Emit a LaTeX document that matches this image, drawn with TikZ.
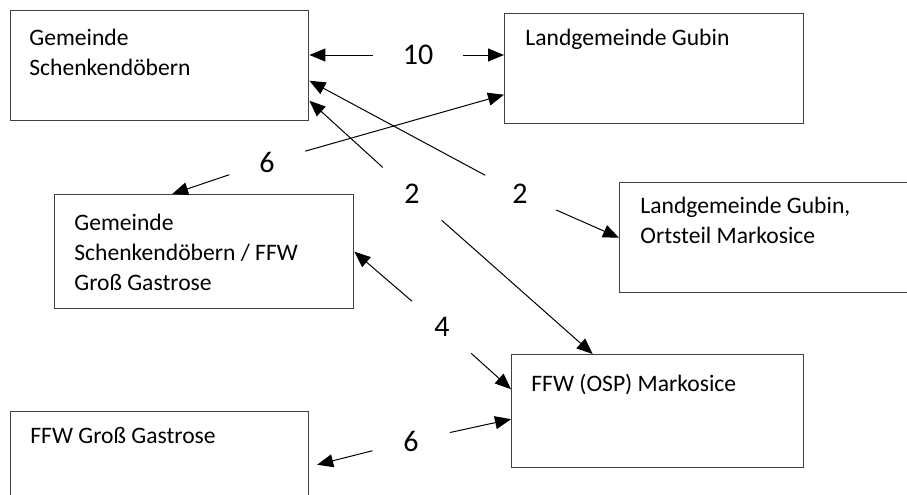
\documentclass[tikz,border=0pt]{standalone}
\usepackage{fontspec}
\setmainfont{Carlito}
\usetikzlibrary{arrows.meta,positioning}

\begin{document}
\begin{tikzpicture}[x=0.5pt,y=-0.5pt]
    \tikzstyle{box}=[rectangle,draw=black!75,line width=0.7pt,anchor=north west,minimum width=149pt,minimum height=55pt,inner sep=0pt]
    \tikzstyle{txt}=[align=left,inner sep=0pt,font=\fontsize{11.8}{15}\selectfont]
    \tikzstyle{num}=[circle,inner sep=9.5pt,font=\fontsize{15}{17}\selectfont]   % count on a link
    \tikzstyle{link}=[line width=0.5pt,-{Triangle[length=8pt,width=6.5pt]}]

    \tikzstyle{every edge}=[draw]

    \useasboundingbox (0,0) rectangle (907,494);
    \clip (0,0) rectangle (907,494);

    \node[box] (gem) at ( 10, 10) {};
    \node[box,minimum width=149.5pt] (lgg) at (504, 13) {};
    \node[box,minimum width=160pt] (lgm) at (619,182) {};
    \node[box,minimum width=149.5pt,minimum height=57pt] (ggd) at ( 54,194) {};
    \node[box,minimum width=146pt,minimum height=56.5pt] (osp) at (511,354) {};
    \node[box] (ffw) at ( 10,411) {};

    \node[txt,below right=9.5pt and 9.5pt of gem.north west] (gemtxt) {Gemeinde\\Schenkendöbern};
    \node[txt,below right=8pt and 10.5pt of lgg.north west] (lggtxt) {Landgemeinde Gubin};
    \node[txt,below right=7.5pt and 10.5pt of lgm.north west] (lgmtxt) {Landgemeinde Gubin,\\Ortsteil Markosice};
    \node[txt,below right=10pt and 10pt of ggd.north west] (ggdtxt) {Gemeinde\\Schenkendöbern / FFW\\Groß Gastrose};
    \node[txt,below right=10pt and 10pt of osp.north west] (osptxt) {FFW (OSP) Markosice};
    \node[txt,below right=8pt and 10pt of ffw.north west] (ffwtxt) {FFW Groß Gastrose};

    \node[num] (l10) at (418, 55) {10};
    \node[num] (l6a) at (267,162) {6};
    \node[num] (l2a) at (412,194) {2};
    \node[num] (l2b) at (520,194) {2};
    \node[num] (l4)  at (442,327) {4};
    \node[num] (l6b) at (411,441) {6};

    \path[link] (l10) edge (l10 -| gem.east);
    \path[link] (l10) edge (l10 -| lgg.west);
    \path[link] (l6a) edge ([yshift=-13pt]lgg.west);
    \path[link] (l6a) edge ([xshift=-16pt]ggd.north);
    \path[link] (l2a) edge ([yshift=-17.5pt]gem.east);
    \path[link] (l2a) edge ([xshift=-32.5pt]osp.north);
    \path[link] (l2b) edge ([yshift=-7.5pt]gem.east);
    \path[link] (l2b) edge (lgm.west);
    \path[link] (l4)  edge (ggd.east);
    \path[link] (l4)  edge ([yshift=11pt]osp.west);
    \path[link] (l6b) edge ([yshift=-4pt]osp.west);
    \path[link] (l6b) edge [shorten >=4pt] (ffw.east);
\end{tikzpicture}
\end{document}
